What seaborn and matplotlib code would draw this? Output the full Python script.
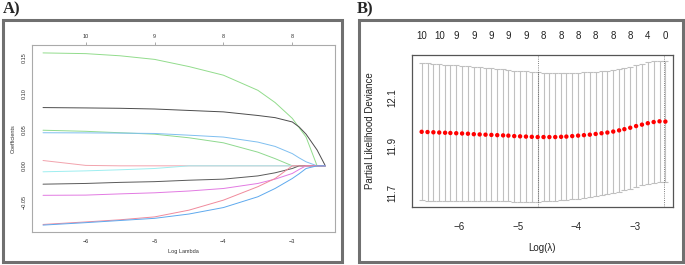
import numpy as np
import pandas as pd
import matplotlib
matplotlib.use("Agg")
import matplotlib.pyplot as plt
from matplotlib.patches import Rectangle
import seaborn as sns

# ---------------- Panel A data: LASSO coefficient paths ----------------
path_loglam = [-6.62, -6.0, -5.5, -5.0, -4.5, -4.0, -3.5, -3.25, -3.0, -2.9, -2.8, -2.64, -2.52]
coef_v1 = [0.157, 0.156, 0.153, 0.148, 0.138, 0.126, 0.105, 0.088, 0.066, 0.053, 0.040, 0.0, 0.0]
coef_v2 = [0.081, 0.0805, 0.080, 0.079, 0.077, 0.075, 0.070, 0.067, 0.061, 0.054, 0.044, 0.022, 0.0]
coef_v3 = [0.0495, 0.048, 0.046, 0.044, 0.039, 0.032, 0.019, 0.010, 0.0, 0.0, 0.0, 0.0, 0.0]
coef_v4 = [0.046, 0.0458, 0.0455, 0.045, 0.0426, 0.040, 0.033, 0.027, 0.017, 0.011, 0.0056, 0.0, 0.0]
coef_v5 = [0.0074, 0.0006, 0.0, 0.0, 0.0, 0.0, 0.0, 0.0, 0.0, 0.0, 0.0, 0.0, 0.0]
coef_v6 = [-0.0083, -0.007, -0.0055, -0.0037, 0.0, 0.0, 0.0, 0.0, 0.0, 0.0, 0.0, 0.0, 0.0]
coef_v7 = [-0.0255, -0.0245, -0.023, -0.022, -0.020, -0.0185, -0.014, -0.0097, -0.0037, 0.0, 0.0, 0.0, 0.0]
coef_v8 = [-0.041, -0.0407, -0.039, -0.0375, -0.035, -0.0315, -0.0245, -0.0185, -0.0106, -0.005, 0.0, 0.0, 0.0]
coef_v9 = [-0.0815, -0.078, -0.075, -0.071, -0.0616, -0.0477, -0.029, -0.0176, 0.0, 0.0, 0.0, 0.0, 0.0]
coef_v10 = [-0.0824, -0.079, -0.076, -0.073, -0.067, -0.058, -0.043, -0.0315, -0.0176, -0.011, -0.0037, 0.0, 0.0]
path_colors = ["#92dc8c", "#4d4d4d", "#8fd98f", "#7fbff0", "#f2a3ad",
               "#9eeef0", "#5a5a5a", "#e27ae2", "#f08a9c", "#5ea9ee"]

a_bottom_ticks = [-6, -5, -4, -3]
a_top_labels = ["10", "9", "8", "8"]
a_yticks = [-0.05, 0.00, 0.05, 0.10, 0.15]
a_yticklabels = ["\u22120.05", "0.00", "0.05", "0.10", "0.15"]

# ---------------- Panel B data: cross-validation curve ----------------
cv_loglam = [-6.64, -6.54, -6.44, -6.34, -6.24, -6.15, -6.05, -5.95, -5.85, -5.75,
             -5.65, -5.55, -5.45, -5.35, -5.25, -5.16, -5.06, -4.96, -4.86, -4.76,
             -4.66, -4.56, -4.46, -4.36, -4.26, -4.17, -4.07, -3.97, -3.87, -3.77,
             -3.67, -3.57, -3.47, -3.37, -3.27, -3.18, -3.08, -2.98, -2.88, -2.78,
             -2.68, -2.58, -2.48]
cv_mean = [11.958, 11.957, 11.956, 11.955, 11.954, 11.953, 11.952, 11.951, 11.950, 11.948,
           11.947, 11.946, 11.945, 11.944, 11.943, 11.942, 11.940, 11.939, 11.938, 11.937,
           11.936, 11.936, 11.936, 11.936, 11.937, 11.938, 11.940, 11.942, 11.944, 11.946,
           11.949, 11.952, 11.955, 11.959, 11.964, 11.969, 11.975, 11.982, 11.988, 11.994,
           11.999, 12.002, 12.001]
cv_se = [0.288, 0.288, 0.287, 0.287, 0.286, 0.286, 0.285, 0.284, 0.283, 0.282,
         0.281, 0.280, 0.279, 0.278, 0.277, 0.276, 0.275, 0.274, 0.273, 0.272,
         0.271, 0.270, 0.269, 0.268, 0.267, 0.266, 0.265, 0.264, 0.263, 0.262,
         0.261, 0.260, 0.259, 0.258, 0.257, 0.257, 0.256, 0.256, 0.255, 0.255,
         0.254, 0.254, 0.254]
b_top_labels = ["10", "10", "9", "9", "9", "9", "9", "8", "8", "8", "8", "8", "8", "4", "0"]
lambda_min = -4.66
lambda_1se = -2.50
b_xticks = [-6, -5, -4, -3]
b_yticks = [11.7, 11.8, 11.9, 12.0, 12.1, 12.2]
b_yticklabels = ["11.7", "", "11.9", "", "12.1", ""]

# ---------------- figure ----------------
sns.set_style("white")
plt.rcParams["font.family"] = ["Liberation Sans", "DejaVu Sans"]

W, H = 685, 265
fig = plt.figure(figsize=(W / 100, H / 100), dpi=100)


def px_axes(x0, y0, x1, y1):
    return fig.add_axes([x0 / W, 1 - y1 / H, (x1 - x0) / W, (y1 - y0) / H])


# panel frames
for (x0, y0, x1, y1) in [(2.5, 19.5, 342, 262), (358.5, 19.5, 683, 262)]:
    fig.add_artist(Rectangle((x0 / W, 1 - y1 / H), (x1 - x0) / W, (y1 - y0) / H,
                             transform=fig.transFigure, fill=False,
                             edgecolor="#707070", linewidth=2.2))
fig.text(3 / W, 1 - 9 / H, "A)", fontsize=12, fontweight="bold",
         family=["Liberation Serif", "DejaVu Serif"], va="center", ha="left")
fig.text(357 / W, 1 - 9 / H, "B)", fontsize=12, fontweight="bold",
         family=["Liberation Serif", "DejaVu Serif"], va="center", ha="left")

# ---------------- Panel A ----------------
axA = px_axes(32, 45, 335, 232)
coef_lists = [coef_v1, coef_v2, coef_v3, coef_v4, coef_v5,
              coef_v6, coef_v7, coef_v8, coef_v9, coef_v10]
rows = []
for k, vals in enumerate(coef_lists):
    for xv, yv in zip(path_loglam, vals):
        rows.append({"var": f"V{k+1}", "loglam": xv, "coef": yv})
dfA = pd.DataFrame(rows)
sns.lineplot(data=dfA, x="loglam", y="coef", hue="var",
             palette=path_colors, legend=False, estimator=None,
             linewidth=0.7, ax=axA)
axA.set_xlim(-6.78, -2.38)
axA.set_ylim(-0.092, 0.168)
axA.set_xticks(a_bottom_ticks)
axA.set_xticklabels(["\u2212" + str(abs(t)) for t in a_bottom_ticks])
axA.set_yticks(a_yticks)
axA.set_yticklabels(a_yticklabels, rotation=90, va="center")
axA.tick_params(axis="both", labelsize=4, length=2, width=0.5, color="#888888",
                pad=2, labelcolor="#333333", direction="out")
axA.tick_params(axis="x", pad=3)
for s in axA.spines.values():
    s.set_color("#aaaaaa")
    s.set_linewidth(0.8)
axA.set_xlabel("Log Lambda", fontsize=4, labelpad=4, color="#333333")
axA.set_ylabel("Coefficients", fontsize=4, labelpad=4, color="#333333")
topA = axA.secondary_xaxis("top")
topA.set_xticks(a_bottom_ticks)
topA.set_xticklabels(a_top_labels)
topA.tick_params(labelsize=4, length=2, width=0.5, color="#888888", pad=2,
                 labelcolor="#333333")
topA.spines["top"].set_visible(False)

# ---------------- Panel B ----------------
axB = px_axes(411.7, 55, 673, 206.7)
axB.errorbar(cv_loglam, cv_mean, yerr=cv_se, fmt="none", ecolor="#c0c0c0",
             elinewidth=0.8, capsize=2.15, capthick=0.8, zorder=1)
sns.scatterplot(x=cv_loglam, y=cv_mean, color="red", s=10, edgecolor="none",
                ax=axB, zorder=3)
axB.axvline(lambda_min, color="#555555", linestyle=":", linewidth=0.6, zorder=2)
axB.axvline(lambda_1se, color="#555555", linestyle=":", linewidth=0.6, zorder=2)
axB.set_xlim(-6.81, -2.35)
axB.set_ylim(11.644, 12.28)
axB.set_xticks(b_xticks)
axB.set_xticklabels(["\u2212" + str(abs(t)) for t in b_xticks])
axB.set_yticks(b_yticks)
axB.set_yticklabels(b_yticklabels, rotation=90, va="center")
axB.tick_params(axis="both", labelsize=7, length=5, width=0.7, color="#555555",
                labelcolor="#222222", direction="out")
axB.tick_params(axis="x", pad=6)
axB.tick_params(axis="y", pad=5)
for s in axB.spines.values():
    s.set_color("#555555")
    s.set_linewidth(0.9)
axB.set_xlabel("Log(\u03bb)", fontsize=7, labelpad=8, color="#222222")
axB.set_ylabel("Partial Likelihood Deviance", fontsize=7, labelpad=9, color="#222222")
topB = axB.secondary_xaxis("top")
topB.set_xticks(cv_loglam[::3])
topB.set_xticklabels(b_top_labels)
topB.tick_params(labelsize=7, length=0, pad=10, labelcolor="#222222")
topB.spines["top"].set_visible(False)

fig.savefig("out.png", dpi=100)
